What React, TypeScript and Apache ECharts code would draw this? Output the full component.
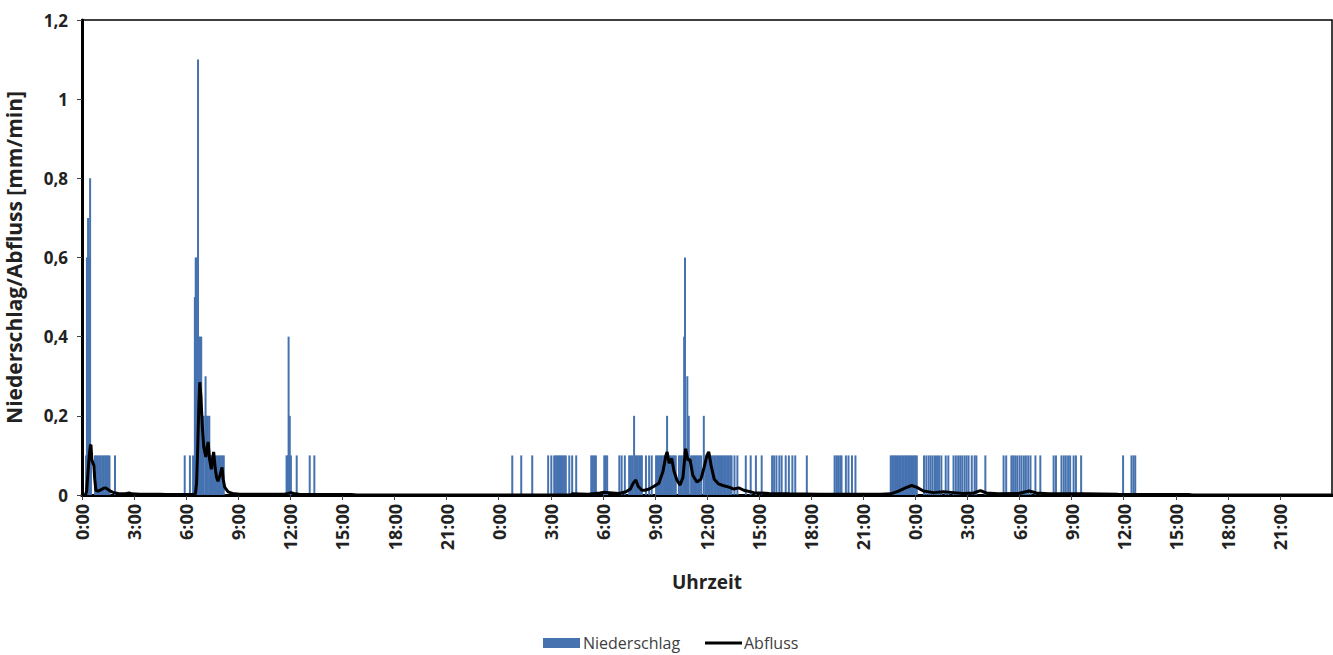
import React, { useEffect, useRef } from "react";
import * as echarts from "echarts";

// time in minutes since start (3 days), precipitation in mm/min
const rain: [number, number][] = [
  [14, 0.1], [17, 0.6], [21, 0.7], [24, 0.6], [28, 0.8], [31, 0.1],
  [45, 0.1], [50, 0.1], [55, 0.1], [60, 0.1], [65, 0.1], [70, 0.1], [75, 0.1], [80, 0.1], [85, 0.1], [90, 0.1], [95, 0.1],
  [114, 0.1],
  [355, 0.1], [373, 0.1], [384, 0.1], [390, 0.5], [393, 0.6], [397, 0.6], [401, 1.1], [404, 0.4], [408, 0.4], [412, 0.4],
  [417, 0.2], [421, 0.2], [427, 0.3], [431, 0.2], [435, 0.2], [440, 0.2],
  [444, 0.1], [448, 0.1], [452, 0.1], [456, 0.1], [460, 0.1], [465, 0.1], [470, 0.1], [475, 0.1], [480, 0.1], [485, 0.1], [490, 0.1],
  [707, 0.1], [711, 0.1], [714, 0.4], [718, 0.2], [722, 0.1], [742, 0.1], [787, 0.1], [803, 0.1],
  // day 2
  [1487, 0.1], [1518, 0.1], [1556, 0.1], [1611, 0.1], [1622, 0.1],
  [1632, 0.1], [1637, 0.1], [1642, 0.1], [1647, 0.1], [1652, 0.1], [1657, 0.1], [1662, 0.1], [1667, 0.1], [1672, 0.1],
  [1684, 0.1], [1694, 0.1], [1708, 0.1],
  [1760, 0.1], [1765, 0.1], [1770, 0.1], [1776, 0.1], [1805, 0.1], [1810, 0.1], [1815, 0.1],
  [1857, 0.1], [1865, 0.1], [1876, 0.1],
  [1891, 0.1], [1896, 0.1], [1901, 0.1], [1908, 0.2], [1911, 0.1], [1916, 0.1], [1921, 0.1], [1926, 0.1], [1931, 0.1], [1935, 0.1],
  [1949, 0.1], [1960, 0.1], [1969, 0.1],
  [1984, 0.1], [1989, 0.1], [1994, 0.1], [1999, 0.1], [2004, 0.1], [2009, 0.1], [2014, 0.1], [2018, 0.1], [2022, 0.2],
  [2027, 0.1], [2032, 0.1], [2037, 0.1], [2042, 0.1], [2047, 0.1], [2052, 0.1],
  [2063, 0.1], [2068, 0.1], [2073, 0.1], [2078, 0.1], [2081, 0.4], [2084, 0.6], [2088, 0.1], [2092, 0.3], [2097, 0.2],
  [2105, 0.1], [2110, 0.1], [2115, 0.1], [2120, 0.1], [2125, 0.1], [2130, 0.1], [2135, 0.1], [2140, 0.1], [2149, 0.2],
  [2155, 0.1], [2160, 0.1], [2165, 0.1], [2170, 0.1], [2175, 0.1], [2180, 0.1], [2185, 0.1], [2190, 0.1], [2195, 0.1], [2200, 0.1],
  [2205, 0.1], [2210, 0.1], [2215, 0.1], [2220, 0.1], [2225, 0.1], [2230, 0.1], [2235, 0.1], [2240, 0.1], [2245, 0.1],
  [2255, 0.1], [2265, 0.1], [2294, 0.1], [2311, 0.1], [2329, 0.1], [2349, 0.1],
  [2385, 0.1], [2392, 0.1], [2400, 0.1], [2410, 0.1], [2418, 0.1], [2432, 0.1], [2443, 0.1], [2455, 0.1], [2465, 0.1],
  [2505, 0.1], [2601, 0.1], [2607, 0.1], [2613, 0.1], [2620, 0.1], [2625, 0.1], [2640, 0.1], [2649, 0.1], [2661, 0.1], [2673, 0.1],
  [2795, 0.1], [2800, 0.1], [2805, 0.1], [2810, 0.1], [2815, 0.1], [2820, 0.1], [2825, 0.1], [2830, 0.1], [2835, 0.1], [2840, 0.1],
  [2845, 0.1], [2850, 0.1], [2855, 0.1], [2860, 0.1], [2865, 0.1], [2870, 0.1], [2875, 0.1], [2880, 0.1], [2885, 0.1],
  // day 3
  [2910, 0.1], [2918, 0.1], [2926, 0.1], [2933, 0.1], [2940, 0.1], [2948, 0.1], [2955, 0.1], [2962, 0.1], [2970, 0.1],
  [2985, 0.1], [2994, 0.1], [3012, 0.1], [3020, 0.1], [3028, 0.1], [3035, 0.1], [3042, 0.1], [3050, 0.1], [3057, 0.1], [3064, 0.1],
  [3075, 0.1], [3085, 0.1], [3091, 0.1], [3122, 0.1], [3185, 0.1], [3194, 0.1],
  [3212, 0.1], [3218, 0.1], [3225, 0.1], [3232, 0.1], [3240, 0.1], [3247, 0.1], [3255, 0.1], [3262, 0.1], [3270, 0.1], [3278, 0.1],
  [3295, 0.1], [3312, 0.1], [3358, 0.1], [3366, 0.1], [3385, 0.1], [3393, 0.1], [3400, 0.1], [3408, 0.1], [3415, 0.1],
  [3427, 0.1], [3435, 0.1], [3453, 0.1], [3598, 0.1], [3627, 0.1], [3634, 0.1], [3640, 0.1],
];

// runoff in mm/min
const runoff: [number, number][] = [
  [0, 0], [12, 0], [16, 0.01], [20, 0.05], [25, 0.1], [29, 0.125], [31, 0.127], [34, 0.09], [38, 0.08], [41, 0.075],
  [44, 0.04], [48, 0.012], [55, 0.01], [65, 0.013], [75, 0.017], [82, 0.018], [90, 0.014], [100, 0.009], [110, 0.006],
  [125, 0.004], [150, 0.003], [163, 0.005], [170, 0.003], [200, 0.002], [270, 0.002], [290, 0.001], [380, 0.001],
  [392, 0.003], [396, 0.03], [400, 0.12], [404, 0.23], [407, 0.285], [411, 0.25], [416, 0.17], [421, 0.12], [428, 0.096],
  [432, 0.12], [436, 0.134], [441, 0.09], [447, 0.065], [451, 0.09], [455, 0.109], [460, 0.07], [465, 0.045], [470, 0.035],
  [477, 0.05], [484, 0.07], [488, 0.04], [493, 0.02], [505, 0.008], [520, 0.004], [545, 0.002], [700, 0.002],
  [712, 0.004], [722, 0.006], [732, 0.004], [750, 0.002], [930, 0.001], [950, 0],
  [1690, 0], [1694, 0.003], [1750, 0.002], [1790, 0.005], [1805, 0.007], [1822, 0.006], [1856, 0.004], [1880, 0.008],
  [1895, 0.015], [1905, 0.03], [1914, 0.038], [1922, 0.022], [1935, 0.012], [1945, 0.012], [1960, 0.015], [1977, 0.022],
  [1994, 0.03], [2008, 0.06], [2018, 0.1], [2022, 0.109], [2029, 0.08], [2038, 0.092], [2046, 0.06], [2056, 0.038],
  [2067, 0.025], [2077, 0.045], [2086, 0.117], [2094, 0.088], [2101, 0.09], [2111, 0.05], [2125, 0.033], [2139, 0.04],
  [2150, 0.07], [2160, 0.1], [2166, 0.109], [2174, 0.075], [2185, 0.04], [2200, 0.028], [2215, 0.024], [2236, 0.02],
  [2253, 0.015], [2270, 0.018], [2287, 0.012], [2322, 0.006], [2374, 0.004], [2443, 0.003], [2546, 0.002], [2760, 0.002],
  [2795, 0.003], [2822, 0.01], [2846, 0.018], [2867, 0.024], [2884, 0.02], [2908, 0.01], [2943, 0.006], [2977, 0.008],
  [3012, 0.006], [3046, 0.004], [3081, 0.005], [3105, 0.011], [3126, 0.005], [3167, 0.003], [3236, 0.004], [3274, 0.01],
  [3298, 0.005], [3340, 0.003], [3460, 0.003], [3581, 0.002], [3823, 0.001], [3840, 0], [4320, 0],
];

const xTickLabels = [
  "0:00", "3:00", "6:00", "9:00", "12:00", "15:00", "18:00", "21:00",
  "0:00", "3:00", "6:00", "9:00", "12:00", "15:00", "18:00", "21:00",
  "0:00", "3:00", "6:00", "9:00", "12:00", "15:00", "18:00", "21:00",
];
const yTickLabels = ["0", "0,2", "0,4", "0,6", "0,8", "1", "1,2"];

const FONT = "'Open Sans', 'DejaVu Sans', sans-serif";

export default function App() {
  const ref = useRef<HTMLDivElement>(null);
  useEffect(() => {
    if (!ref.current) return;
    const chart = echarts.init(ref.current, undefined, { renderer: "svg" });
    chart.setOption({
      animation: false,
      backgroundColor: "#fff",
      textStyle: { fontFamily: FONT },
      grid: {
        left: 82,
        right: 1,
        top: 20,
        bottom: 160,
        show: true,
        borderColor: "#000",
        borderWidth: 1.5,
        backgroundColor: "transparent",
        containLabel: false,
        outerBoundsMode: "none",
      },
      legend: [
        {
          left: 543,
          top: 634,
          padding: 0,
          itemWidth: 37,
          itemHeight: 10,
          selectedMode: false,
          textStyle: { fontFamily: FONT, fontSize: 16, lineHeight: 18, color: "#404040", padding: [0, 0, 0, -2] },
          data: [{ name: "Niederschlag", icon: "rect" }],
        },
        {
          left: 705,
          top: 634,
          padding: 0,
          itemWidth: 37,
          itemHeight: 3,
          selectedMode: false,
          textStyle: { fontFamily: FONT, fontSize: 16, lineHeight: 18, color: "#404040", padding: [0, 0, 0, -3] },
          data: [{ name: "Abfluss", icon: "rect", itemStyle: { color: "#000" } }],
        },
      ],
      xAxis: [
        {
          type: "value",
          min: 0,
          max: 4320,
          interval: 180,
          name: "Uhrzeit",
          nameLocation: "middle",
          nameGap: 77,
          nameTextStyle: { fontFamily: FONT, fontSize: 19, fontWeight: "bold", color: "#222" },
          axisLine: { show: true, onZero: false, lineStyle: { color: "#000", width: 3 } },
          axisTick: { show: true, length: 5, lineStyle: { color: "#444", width: 1 } },
          splitLine: { show: false },
          axisLabel: {
            rotate: 90,
            margin: 9,
            fontFamily: FONT,
            fontSize: 18,
            fontWeight: "bold",
            color: "#222",
            showMaxLabel: false,
            formatter: (v: number) => xTickLabels[Math.round(v / 180)] ?? "",
          },
        },
        {
          type: "value",
          position: "top",
          min: 0,
          max: 4320,
          axisLine: { show: true, lineStyle: { color: "#000", width: 3 } },
          axisTick: { show: false },
          axisLabel: { show: false },
          splitLine: { show: false },
        },
      ],
      yAxis: {
        type: "value",
        min: 0,
        max: 1.2,
        interval: 0.2,
        name: "Niederschlag/Abfluss [mm/min]",
        nameLocation: "middle",
        nameGap: 58,
        nameTextStyle: { fontFamily: FONT, fontSize: 21, fontWeight: "bold", color: "#222" },
        axisLine: { show: true, lineStyle: { color: "#000", width: 3 } },
        axisTick: { show: true, length: 5, lineStyle: { color: "#444", width: 1 } },
        splitLine: { show: false },
        axisLabel: {
          margin: 14,
          fontFamily: FONT,
          fontSize: 17,
          fontWeight: "bold",
          color: "#222",
          formatter: (v: number) => yTickLabels[Math.round(v / 0.2)] ?? "",
        },
      },
      series: [
        {
          name: "Niederschlag",
          type: "bar",
          data: rain,
          barWidth: 2,
          itemStyle: { color: "#4672b0" },
          z: 2,
        },
        {
          name: "Abfluss",
          type: "line",
          data: runoff,
          symbol: "none",
          showSymbol: false,
          lineStyle: { color: "#000", width: 3 },
          itemStyle: { color: "#000" },
          z: 3,
        },
      ],
    });
    return () => chart.dispose();
  }, []);
  return (
    <div
      ref={ref}
      style={{ position: "fixed", left: 0, top: 0, width: 1333, height: 655, background: "#fff" }}
    />
  );
}
